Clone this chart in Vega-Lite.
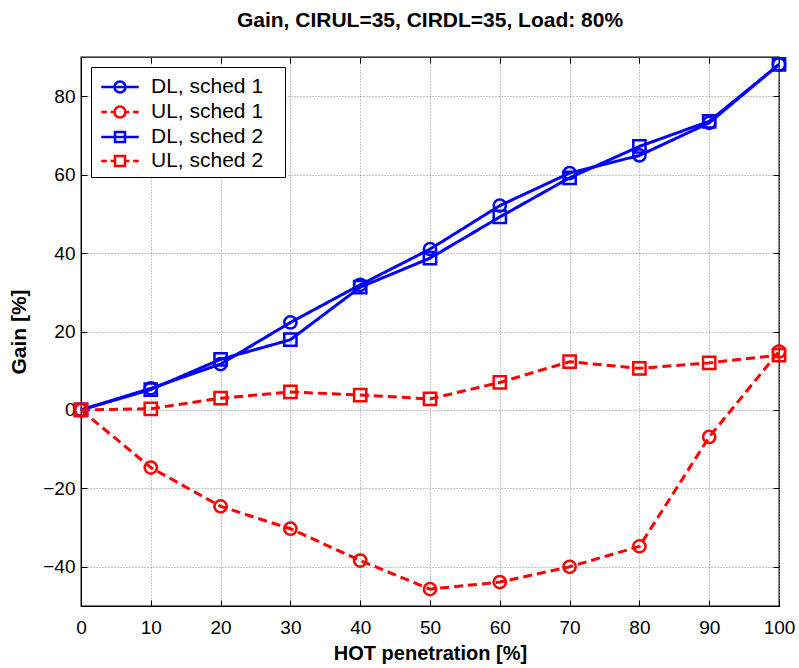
{
  "$schema": "https://vega.github.io/schema/vega-lite/v6.json",
  "width": 698,
  "height": 549,
  "autosize": {"type": "none"},
  "padding": {"left": 81, "top": 57, "right": 20, "bottom": 62},
  "background": "white",
  "title": {"text": "Gain, CIRUL=35, CIRDL=35, Load: 80%", "font": "Liberation Sans", "fontSize": 21, "fontWeight": "bold", "color": "black", "offset": 22},
  "config": {
    "view": {"stroke": "black", "strokeWidth": 1.3},
    "axis": {
      "labelFont": "Liberation Sans", "labelFontSize": 19, "labelColor": "black", "labelFlush": false,
      "titleFont": "Liberation Sans", "titleFontSize": 20, "titleFontWeight": "bold", "titleColor": "black",
      "domainColor": "black", "domainWidth": 1, "tickColor": "black", "tickWidth": 1, "tickSize": -6,
      "gridColor": "#8c8c8c", "gridDash": [1, 2], "gridWidth": 1, "gridOpacity": 1
    }
  },
  "data": {"values": [
    {"hot": 0, "series": "DL, sched 1", "link": "DL", "sched": "1", "gain": 0},
    {"hot": 10, "series": "DL, sched 1", "link": "DL", "sched": "1", "gain": 5.5},
    {"hot": 20, "series": "DL, sched 1", "link": "DL", "sched": "1", "gain": 11.7},
    {"hot": 30, "series": "DL, sched 1", "link": "DL", "sched": "1", "gain": 22.3},
    {"hot": 40, "series": "DL, sched 1", "link": "DL", "sched": "1", "gain": 31.9},
    {"hot": 50, "series": "DL, sched 1", "link": "DL", "sched": "1", "gain": 41.0},
    {"hot": 60, "series": "DL, sched 1", "link": "DL", "sched": "1", "gain": 52.1},
    {"hot": 70, "series": "DL, sched 1", "link": "DL", "sched": "1", "gain": 60.4},
    {"hot": 80, "series": "DL, sched 1", "link": "DL", "sched": "1", "gain": 64.9},
    {"hot": 90, "series": "DL, sched 1", "link": "DL", "sched": "1", "gain": 73.2},
    {"hot": 100, "series": "DL, sched 1", "link": "DL", "sched": "1", "gain": 88.1},
    {"hot": 0, "series": "UL, sched 1", "link": "UL", "sched": "1", "gain": 0},
    {"hot": 10, "series": "UL, sched 1", "link": "UL", "sched": "1", "gain": -14.7},
    {"hot": 20, "series": "UL, sched 1", "link": "UL", "sched": "1", "gain": -24.6},
    {"hot": 30, "series": "UL, sched 1", "link": "UL", "sched": "1", "gain": -30.3},
    {"hot": 40, "series": "UL, sched 1", "link": "UL", "sched": "1", "gain": -38.4},
    {"hot": 50, "series": "UL, sched 1", "link": "UL", "sched": "1", "gain": -45.7},
    {"hot": 60, "series": "UL, sched 1", "link": "UL", "sched": "1", "gain": -43.9},
    {"hot": 70, "series": "UL, sched 1", "link": "UL", "sched": "1", "gain": -40.0},
    {"hot": 80, "series": "UL, sched 1", "link": "UL", "sched": "1", "gain": -34.8},
    {"hot": 90, "series": "UL, sched 1", "link": "UL", "sched": "1", "gain": -6.9},
    {"hot": 100, "series": "UL, sched 1", "link": "UL", "sched": "1", "gain": 14.9},
    {"hot": 0, "series": "DL, sched 2", "link": "DL", "sched": "2", "gain": 0},
    {"hot": 10, "series": "DL, sched 2", "link": "DL", "sched": "2", "gain": 5.2},
    {"hot": 20, "series": "DL, sched 2", "link": "DL", "sched": "2", "gain": 12.9},
    {"hot": 30, "series": "DL, sched 2", "link": "DL", "sched": "2", "gain": 17.9},
    {"hot": 40, "series": "DL, sched 2", "link": "DL", "sched": "2", "gain": 31.3},
    {"hot": 50, "series": "DL, sched 2", "link": "DL", "sched": "2", "gain": 38.7},
    {"hot": 60, "series": "DL, sched 2", "link": "DL", "sched": "2", "gain": 49.2},
    {"hot": 70, "series": "DL, sched 2", "link": "DL", "sched": "2", "gain": 59.2},
    {"hot": 80, "series": "DL, sched 2", "link": "DL", "sched": "2", "gain": 67.2},
    {"hot": 90, "series": "DL, sched 2", "link": "DL", "sched": "2", "gain": 73.6},
    {"hot": 100, "series": "DL, sched 2", "link": "DL", "sched": "2", "gain": 88.1},
    {"hot": 0, "series": "UL, sched 2", "link": "UL", "sched": "2", "gain": 0},
    {"hot": 10, "series": "UL, sched 2", "link": "UL", "sched": "2", "gain": 0.3},
    {"hot": 20, "series": "UL, sched 2", "link": "UL", "sched": "2", "gain": 3.0},
    {"hot": 30, "series": "UL, sched 2", "link": "UL", "sched": "2", "gain": 4.6},
    {"hot": 40, "series": "UL, sched 2", "link": "UL", "sched": "2", "gain": 3.8},
    {"hot": 50, "series": "UL, sched 2", "link": "UL", "sched": "2", "gain": 2.8},
    {"hot": 60, "series": "UL, sched 2", "link": "UL", "sched": "2", "gain": 7.0},
    {"hot": 70, "series": "UL, sched 2", "link": "UL", "sched": "2", "gain": 12.3},
    {"hot": 80, "series": "UL, sched 2", "link": "UL", "sched": "2", "gain": 10.6},
    {"hot": 90, "series": "UL, sched 2", "link": "UL", "sched": "2", "gain": 12.0},
    {"hot": 100, "series": "UL, sched 2", "link": "UL", "sched": "2", "gain": 14.0}
  ]},
  "encoding": {
    "color": {
      "field": "series", "type": "nominal",
      "scale": {"domain": ["DL, sched 1", "UL, sched 1", "DL, sched 2", "UL, sched 2"], "range": ["#0000ff", "#ff0000", "#0000ff", "#ff0000"]},
      "legend": {
        "orient": "top-left", "offset": 10, "title": null,
        "fillColor": "white", "strokeColor": "black", "padding": 6,
        "labelFont": "Liberation Sans", "labelFontSize": 21, "labelColor": "black",
        "labelExpr": "datum.label + '\u2800'",
        "symbolSize": 625, "symbolStrokeWidth": 2.5, "symbolOffset": 9, "labelOffset": 17, "rowPadding": 0,
        "encode": {"symbols": {"update": {
          "fill": {"value": "transparent"},
          "strokeWidth": {"value": 2.5},
          "shape": {"signal": "datum.value === 'DL, sched 1' ? 'M-1.5,0H1.5M0.44,0A0.44,0.44,0,1,1,-0.44,0A0.44,0.44,0,1,1,0.44,0Z' : datum.value === 'UL, sched 1' ? 'M-1.5,0H-1.05M-0.75,0H-0.44M0.44,0H0.75M1.05,0H1.5M0.44,0A0.44,0.44,0,1,1,-0.44,0A0.44,0.44,0,1,1,0.44,0Z' : datum.value === 'DL, sched 2' ? 'M-1.5,0H1.5M-0.4,-0.4H0.4V0.4H-0.4Z' : 'M-1.5,0H-1.05M-0.75,0H-0.4M0.4,0H0.75M1.05,0H1.5M-0.4,-0.4H0.4V0.4H-0.4Z'"}
        }}}
      }
    }
  },
  "layer": [
    {
      "mark": {"type": "line", "strokeWidth": 3},
      "encoding": {
        "x": {"field": "hot", "type": "quantitative", "scale": {"domain": [0, 100], "nice": false},
              "axis": {"orient": "bottom", "values": [0, 10, 20, 30, 40, 50, 60, 70, 80, 90, 100], "title": "HOT penetration [%]", "labelPadding": 18, "titlePadding": 6, "grid": true}},
        "y": {"field": "gain", "type": "quantitative", "scale": {"domain": [-50, 90], "nice": false},
              "axis": {"orient": "left", "values": [-40, -20, 0, 20, 40, 60, 80], "title": "Gain [%]", "titleFontSize": 21, "labelPadding": 12, "titlePadding": 13, "grid": true}},
        "strokeDash": {"field": "link", "type": "nominal",
          "scale": {"domain": ["DL", "UL"], "range": [[1, 0], [9, 5]]},
          "legend": null}
      }
    },
    {
      "mark": {"type": "point", "filled": false, "strokeWidth": 2.5, "size": 150, "opacity": 1},
      "encoding": {
        "x": {"field": "hot", "type": "quantitative", "scale": {"domain": [0, 100], "nice": false},
              "axis": {"orient": "top", "values": [0, 10, 20, 30, 40, 50, 60, 70, 80, 90, 100], "labels": false, "title": null, "grid": false, "domain": false}},
        "y": {"field": "gain", "type": "quantitative", "scale": {"domain": [-50, 90], "nice": false},
              "axis": {"orient": "right", "values": [-40, -20, 0, 20, 40, 60, 80], "labels": false, "title": null, "grid": false, "domain": false}},
        "shape": {"field": "sched", "type": "nominal",
          "scale": {"domain": ["1", "2"], "range": ["circle", "square"]},
          "legend": null}
      }
    }
  ],
  "resolve": {"axis": {"x": "independent", "y": "independent"}}
}
